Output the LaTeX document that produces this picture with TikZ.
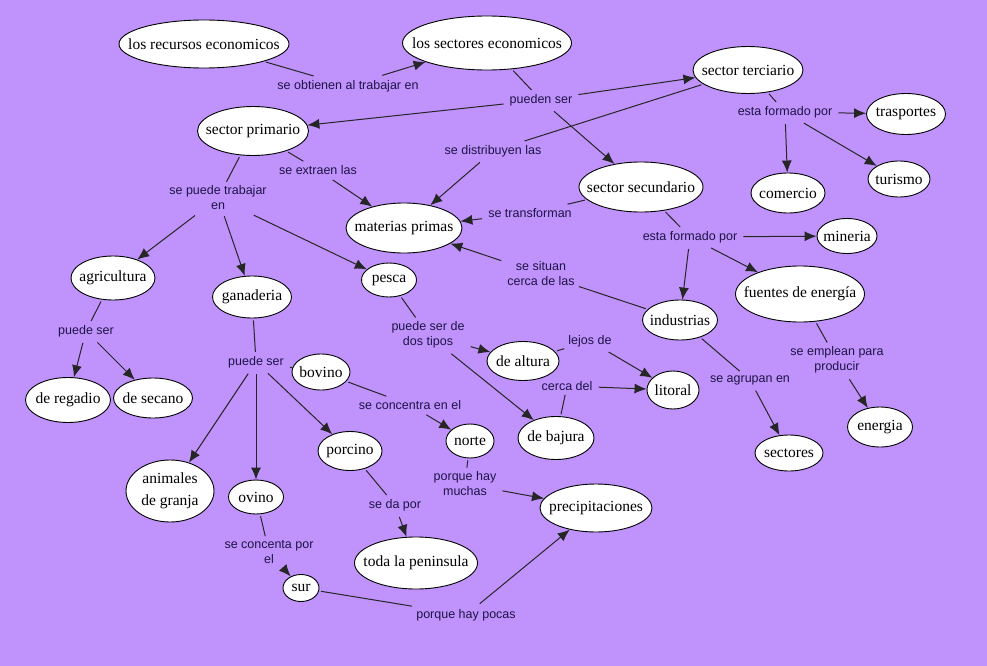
\documentclass[tikz,border=0pt]{standalone}
\usepackage{fontspec}
\setmainfont{Liberation Serif}
\newfontfamily\lblfont{Liberation Sans}
\usetikzlibrary{shapes.geometric,arrows.meta}
\definecolor{bgc}{RGB}{192,146,252}
\definecolor{lblc}{RGB}{30,20,70}
\newcommand{\ctx}[1]{\makebox[0pt]{#1}}
\tikzset{
  cn/.style 2 args={ellipse,draw=black,line width=0.9pt,fill=white,minimum width=#1,minimum height=#2,inner sep=0pt,font=\fontsize{15.5}{19}\selectfont},
  lb/.style={inner sep=4pt,text=lblc,align=center,font=\lblfont\fontsize{12.5}{15}\selectfont},
  ln/.style={draw=black!85,line width=1pt,shorten <=2pt},
  ar/.style={ln,-{Latex[length=12pt,width=10pt]}},
}
\begin{document}
\begin{tikzpicture}[x=1pt,y=-1pt]
\fill[bgc] (0,0) rectangle (987,666);
\useasboundingbox (0,0) rectangle (987,666);
% concepts
\node[cn={170}{48}] (rec) at (204,44) {\ctx{los recursos economicos}};
\node[cn={169}{54}] (sec) at (487,43) {\ctx{los sectores economicos}};
\node[cn={110}{47}] (ter) at (748,70) {\ctx{sector terciario}};
\node[cn={111}{49}] (pri) at (253,131) {\ctx{sector primario}};
\node[cn={124}{50}] (scd) at (641,187) {\ctx{sector secundario}};
\node[cn={116}{50}] (mat) at (404,228) {\ctx{materias primas}};
\node[cn={79}{41}] (tra) at (906,114) {\ctx{trasportes}};
\node[cn={74}{40}] (com) at (788,193) {\ctx{comercio}};
\node[cn={62}{36}] (tur) at (899,179) {\ctx{turismo}};
\node[cn={60}{35}] (min) at (847,236) {\ctx{mineria}};
\node[cn={129}{56}] (fue) at (800,294) {\ctx{fuentes de energía}};
\node[cn={75}{40}] (ind) at (680,320) {\ctx{industrias}};
\node[cn={84}{44}] (agr) at (113,278) {\ctx{agricultura}};
\node[cn={79}{42}] (gan) at (252,297) {\ctx{ganaderia}};
\node[cn={55}{34}] (pes) at (389,280) {\ctx{pesca}};
\node[cn={72}{39}] (alt) at (523,361) {\ctx{de altura}};
\node[cn={52}{38}] (lit) at (673,390) {\ctx{litoral}};
\node[cn={85}{45}] (reg) at (68,400) {\ctx{de regadio}};
\node[cn={79}{40}] (seca) at (153,398) {\ctx{de secano}};
\node[cn={58}{36}] (bov) at (321,372) {\ctx{bovino}};
\node[cn={48}{34}] (nor) at (470,441) {\ctx{norte}};
\node[cn={76}{43}] (baj) at (556,438) {\ctx{de bajura}};
\node[cn={68}{36}] (sct) at (789,453) {\ctx{sectores}};
\node[cn={65}{40}] (ene) at (880,427) {\ctx{energia}};
\node[cn={88}{62}] (ani) at (170,491) {\ctx{\begin{tabular}{@{}c@{}}animales\\[3pt]de granja\end{tabular}}};
\node[cn={55}{34}] (ovi) at (256,497) {\ctx{ovino}};
\node[cn={64}{39}] (por) at (350,451) {\ctx{porcino}};
\node[cn={112}{48}] (pre) at (596,508) {\ctx{precipitaciones}};
\node[cn={123}{52}] (pen) at (416,563) {\ctx{toda la peninsula}};
\node[cn={36}{27}] (sur) at (301,588) {\ctx{sur}};
% linking phrases
\node[lb] (l1) at (348,86) {se obtienen al trabajar en};
\node[lb] (l2) at (541,100) {pueden ser};
\node[lb] (l3) at (493,151) {se distribuyen las};
\node[lb] (l4) at (318,170) {se extraen las};
\node[lb] (l5) at (530,213) {se transforman};
\node[lb] (l6) at (785,112) {esta formado por};
\node[lb] (l7) at (690,237) {esta formado por};
\node[lb] (l8) at (218,198) {se puede trabajar\\en};
\node[lb] (l9) at (541,274) {se situan\\cerca de las};
\node[lb] (l10) at (86,331) {puede ser};
\node[lb] (l11) at (256,362) {puede ser};
\node[lb] (l12) at (428,335) {puede ser de\\dos tipos};
\node[lb] (l13) at (590,341) {lejos de};
\node[lb] (l14) at (567,386) {cerca del};
\node[lb] (l15) at (750,380) {se agrupan en};
\node[lb] (l16) at (837,360) {se emplean para\\producir};
\node[lb] (l17) at (410,405) {se concentra en el};
\node[lb] (l18) at (465,484) {porque hay\\muchas};
\node[lb] (l19) at (395,505) {se da por};
\node[lb] (l20) at (269,552) {se concenta por\\el};
\node[lb] (l21) at (466,615) {porque hay pocas};
% connectors
\draw[ln] (rec) -- (l1); \draw[ar] (l1) -- (sec);
\draw[ln] (sec) -- (l2); \draw[ar] (l2) -- (pri); \draw[ar] (l2) -- (ter); \draw[ar] (l2) -- (scd);
\draw[ln] (ter) -- (l3); \draw[ar] (l3) -- (mat);
\draw[ln] (pri) -- (l4); \draw[ar] (l4) -- (mat);
\draw[ln] (scd) -- (l5); \draw[ar] (l5) -- (mat);
\draw[ln] (ter) -- (l6); \draw[ar] (l6) -- (tra); \draw[ar] (l6) -- (com); \draw[ar] (l6) -- (tur);
\draw[ln] (scd) -- (l7); \draw[ar] (l7) -- (min); \draw[ar] (l7) -- (fue); \draw[ar] (l7) -- (ind);
\draw[ln] (ind) -- (l9); \draw[ar] (l9) -- (mat);
\draw[ln] (ind) -- (l15); \draw[ar] (l15) -- (sct);
\draw[ln] (fue) -- (l16); \draw[ar] (l16) -- (ene);
\draw[ln] (pri) -- (l8); \draw[ar] (l8) -- (agr); \draw[ar] (l8) -- (gan); \draw[ar] (l8) -- (pes);
\draw[ln] (agr) -- (l10); \draw[ar] (l10) -- (reg); \draw[ar] (l10) -- (seca);
\draw[ln] (gan) -- (l11); \draw[ln] (l11) -- (bov); \draw[ar] (l11) -- (ani); \draw[ar] (l11) -- (ovi); \draw[ar] (l11) -- (por);
\draw[ln] (bov) -- (l17); \draw[ar] (l17) -- (nor);
\draw[ln] (pes) -- (l12); \draw[ar] (l12) -- (alt); \draw[ar] (l12) -- (baj);
\draw[ln] (alt) -- (l13); \draw[ar] (l13) -- (lit);
\draw[ln] (baj) -- (l14); \draw[ar] (l14) -- (lit);
\draw[ln] (nor) -- (l18); \draw[ar] (l18) -- (pre);
\draw[ln] (por) -- (l19); \draw[ar] (l19) -- (pen);
\draw[ln] (ovi) -- (l20); \draw[ar] (l20) -- (sur);
\draw[ln] (sur) -- (l21); \draw[ar] (l21) -- (pre);
\end{tikzpicture}
\end{document}
